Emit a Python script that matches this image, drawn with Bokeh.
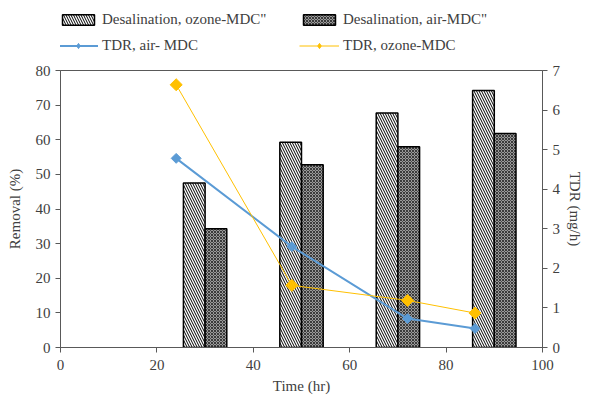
from bokeh.plotting import figure
from bokeh.layouts import column
from bokeh.models import (Range1d, LinearAxis, Legend, LegendItem,
                          ColumnDataSource, FixedTicker)
from bokeh.transform import dodge
from bokeh.embed import file_html
from bokeh.resources import INLINE
import numpy as np

# ---- data ----
bar_time = [30, 50, 70, 90]
desal_ozone = [47.5, 59.3, 67.7, 74.2]
desal_air = [34.3, 52.8, 58.0, 61.8]

tdr_time = [24, 48, 72, 86]
tdr_air = [4.78, 2.55, 0.73, 0.48]
tdr_ozone = [6.64, 1.57, 1.19, 0.87]

x_ticks = [0, 20, 40, 60, 80, 100]
y_ticks = [0, 10, 20, 30, 40, 50, 60, 70, 80]
y2_ticks = [0, 1, 2, 3, 4, 5, 6, 7]

series_labels = ["Desalination, ozone-MDC\"", "Desalination, air-MDC\"",
                 "TDR, air- MDC", "TDR, ozone-MDC"]

FONT = "Liberation Serif"
TXT = "#404040"
AX = "#595959"
BLUE = "#5B9BD5"
GOLD = "#FFC000"

OZ_BAR = dict(fill_color="white", line_color="black", line_width=1.5,
              hatch_pattern="\\", hatch_color="black", hatch_scale=5, hatch_weight=1)
AIR_BAR = dict(fill_color="#9a9a9a", line_color="black", line_width=1.5,
               hatch_pattern="x", hatch_color="#3a3a3a", hatch_scale=3, hatch_weight=1)

W = 586
LEG_H = 62
MAIN_H = 398 - LEG_H

bars = ColumnDataSource(dict(t=bar_time, oz=desal_ozone, air=desal_air))
lines = ColumnDataSource(dict(t=tdr_time, air=tdr_air, oz=tdr_ozone))

# ---------------- main plot ----------------
p = figure(width=W, height=MAIN_H, output_backend="svg", toolbar_location=None,
           x_range=Range1d(0, 100), y_range=Range1d(0, 80),
           min_border_left=60, min_border_right=38,
           min_border_top=8, min_border_bottom=51)
p.extra_y_ranges = {"tdr": Range1d(0, 7)}

p.xgrid.grid_line_color = None
p.ygrid.grid_line_color = None
p.outline_line_color = AX
p.background_fill_color = "white"
p.border_fill_color = "white"

bw = 4.5
p.vbar(x=dodge("t", -bw / 2, range=p.x_range), top="oz", width=bw, source=bars, **OZ_BAR)
p.vbar(x=dodge("t", bw / 2, range=p.x_range), top="air", width=bw, source=bars, **AIR_BAR)

p.line("t", "air", source=lines, y_range_name="tdr", line_color=BLUE, line_width=2)
p.scatter("t", "air", source=lines, y_range_name="tdr", marker="square",
          angle=np.pi / 4, size=7, fill_color=BLUE, line_color=BLUE)
p.line("t", "oz", source=lines, y_range_name="tdr", line_color=GOLD, line_width=1)
p.scatter("t", "oz", source=lines, y_range_name="tdr", marker="square",
          angle=np.pi / 4, size=8.5, fill_color=GOLD, line_color=GOLD)

def style(ax):
    ax.axis_line_color = AX
    ax.major_tick_line_color = AX
    ax.minor_tick_line_color = None
    ax.major_tick_in = 0
    ax.major_tick_out = 5
    ax.major_label_text_font = FONT
    ax.major_label_text_font_size = "15px"
    ax.major_label_text_color = TXT
    ax.axis_label_text_font = FONT
    ax.axis_label_text_font_size = "15px"
    ax.axis_label_text_font_style = "normal"
    ax.axis_label_text_color = TXT
    ax.major_label_standoff = 5

p.xaxis.ticker = FixedTicker(ticks=x_ticks)
p.xaxis.axis_label = "Time (hr)"
p.yaxis.ticker = FixedTicker(ticks=y_ticks)
p.yaxis.axis_label = "Removal (%)"
style(p.xaxis[0])
style(p.yaxis[0])
p.xaxis.major_label_standoff = 7
p.xaxis.axis_label_standoff = 5
p.yaxis.axis_label_standoff = 10

ax2 = LinearAxis(y_range_name="tdr", ticker=FixedTicker(ticks=y2_ticks),
                 axis_label="TDR (mg/h)")
style(ax2)
ax2.axis_label_standoff = 4
p.add_layout(ax2, "right")

# ---------------- legend strip ----------------
# frame aligned with the main plot's frame; its renderers are hidden, so
# only the legend shows
lg = figure(width=W, height=LEG_H, output_backend="svg", toolbar_location=None,
            x_range=Range1d(0, 1), y_range=Range1d(0, 1),
            x_axis_type=None, y_axis_type=None,
            min_border_left=0, min_border_right=0, min_border_top=0, min_border_bottom=0)
lg.outline_line_color = None
lg.xgrid.grid_line_color = None
lg.ygrid.grid_line_color = None
lg.border_fill_color = "white"

g_oz = lg.vbar(x="t", top="oz", width=bw, source=bars, visible=False, **OZ_BAR)
g_air = lg.vbar(x="t", top="air", width=bw, source=bars, visible=False, **AIR_BAR)
g_l_air = lg.line("t", "air", source=lines, line_color=BLUE, line_width=2, visible=False)
g_s_air = lg.scatter("t", "air", source=lines, marker="diamond", size=10,
                     fill_color=BLUE, line_color=BLUE, visible=False)
g_l_oz = lg.line("t", "oz", source=lines, line_color=GOLD, line_width=1, visible=False)
g_s_oz = lg.scatter("t", "oz", source=lines, marker="diamond", size=12,
                    fill_color=GOLD, line_color=GOLD, visible=False)

legend = Legend(items=[
    LegendItem(label=series_labels[0], renderers=[g_oz]),
    LegendItem(label=series_labels[1], renderers=[g_air]),
    LegendItem(label=series_labels[2], renderers=[g_l_air, g_s_air]),
    LegendItem(label=series_labels[3], renderers=[g_l_oz, g_s_oz]),
], orientation="horizontal", ncols=2, location=(-2, 5))
legend.label_text_font = FONT
legend.label_text_font_size = "15px"
legend.label_text_color = TXT
legend.glyph_width = 40
legend.glyph_height = 13
legend.label_height = 23
legend.label_width = 194
legend.label_standoff = 4
legend.spacing = 3
legend.padding = 0
legend.margin = 0
legend.border_line_color = None
legend.background_fill_alpha = 0
lg.add_layout(legend, "center")

layout = column(lg, p, spacing=0)
open("out.html", "w").write(file_html(layout, INLINE))
